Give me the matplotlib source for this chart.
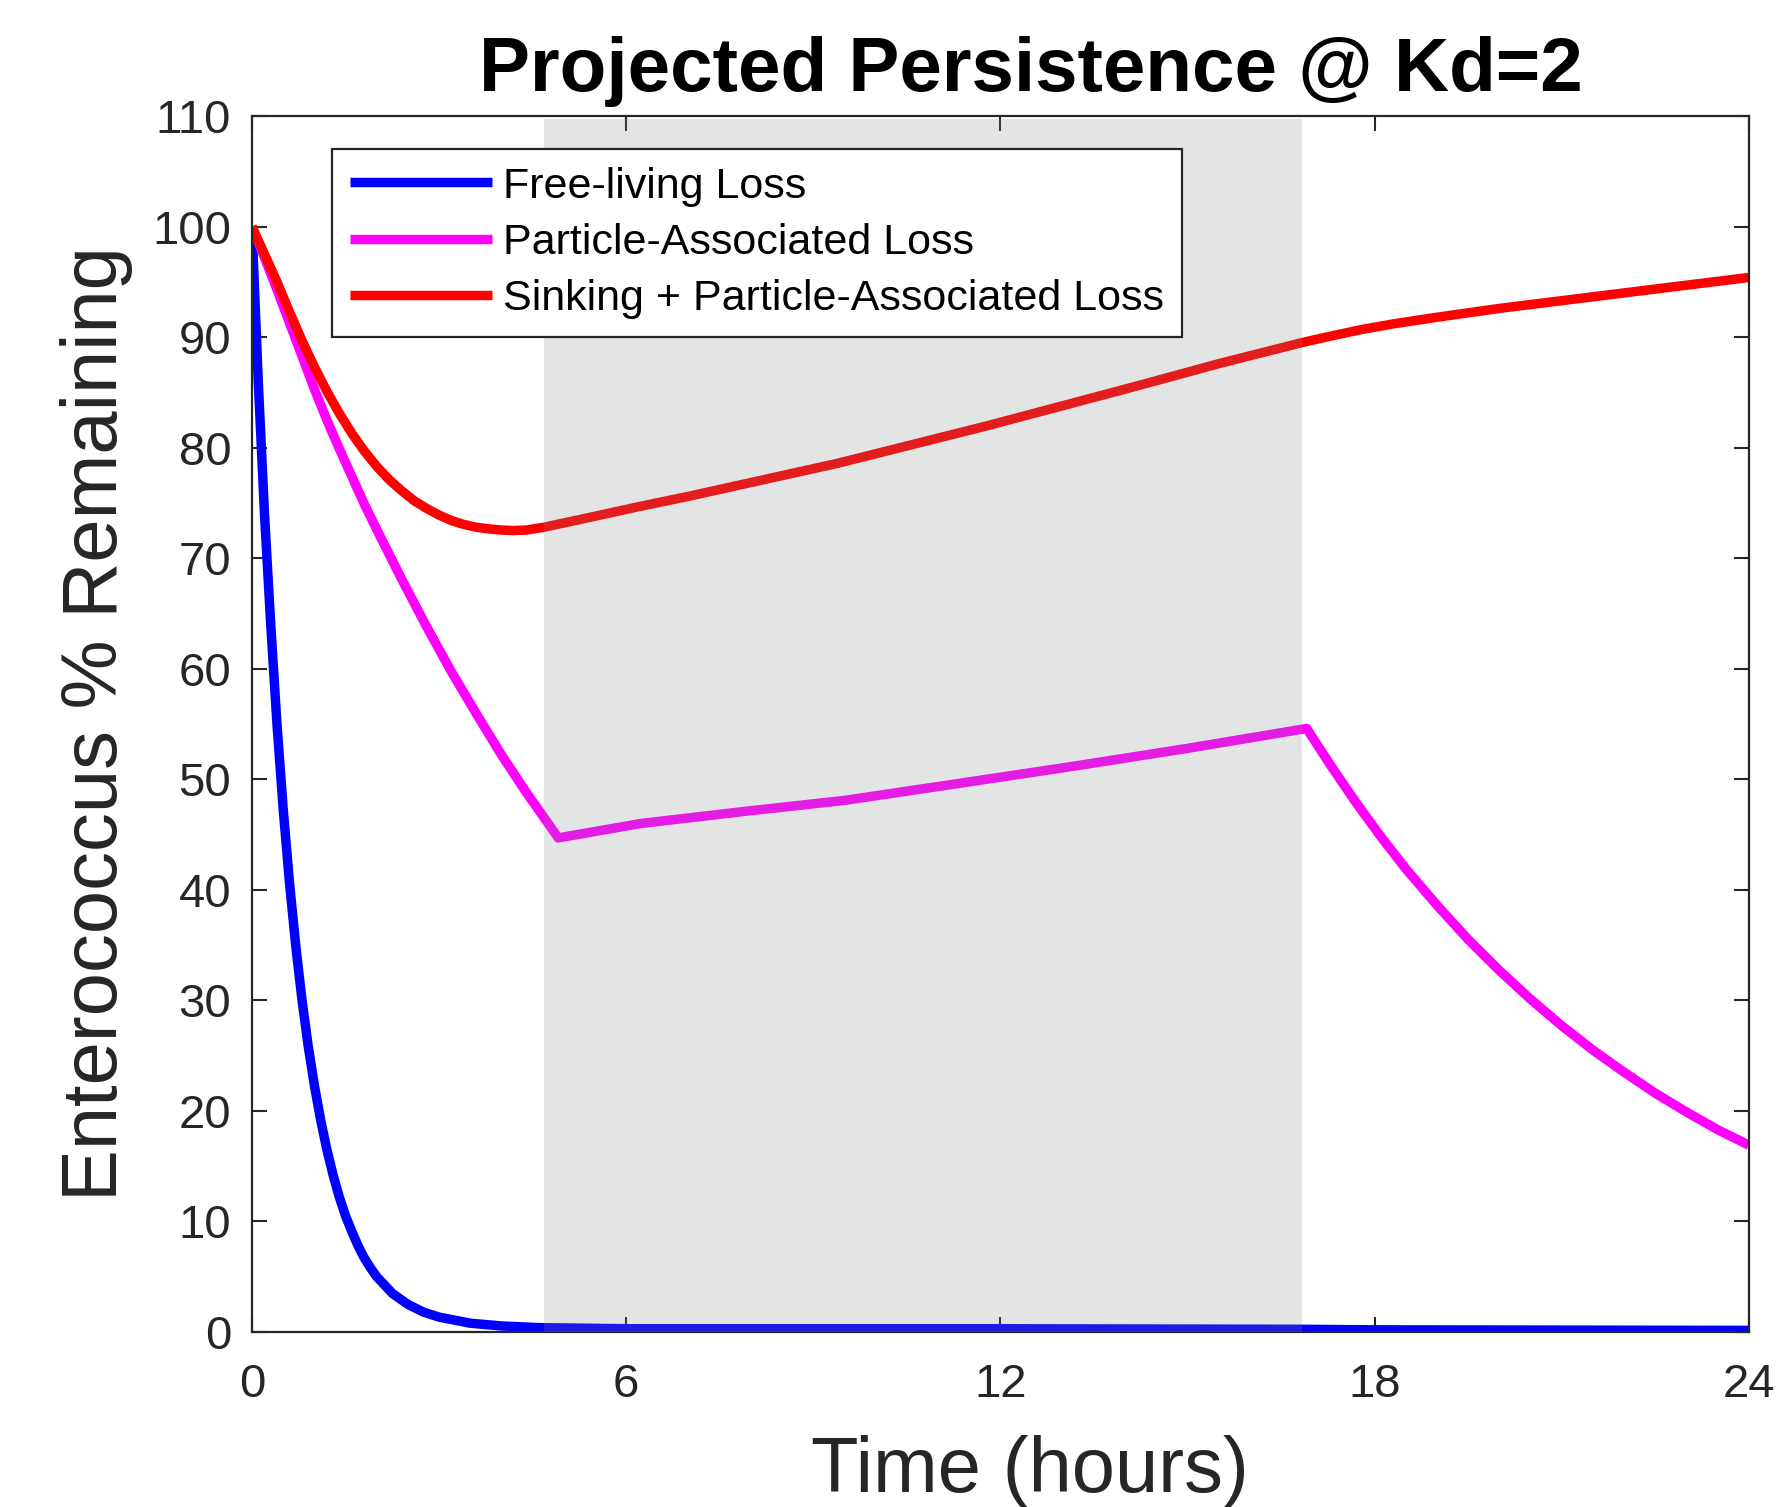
import matplotlib
matplotlib.use("Agg")
import matplotlib.pyplot as plt

plt.rcParams['font.family'] = ['Liberation Sans', 'DejaVu Sans']

# values (hours, % remaining)
t_free = [0, 0.1, 0.2, 0.3, 0.4, 0.5, 0.6, 0.7, 0.8, 0.9, 1.0, 1.1, 1.2,
          1.3, 1.4, 1.5, 1.6, 1.7, 1.8, 1.9, 2.0, 2.25, 2.5, 2.75, 3.0,
          3.5, 4.0, 4.6, 6, 12, 16.8, 18, 24]
v_free = [100, 86, 74, 64, 55, 47.3, 40.7, 35.0, 30.1, 25.9, 22.3, 19.2, 16.5,
          14.2, 12.2, 10.5, 9.1, 7.8, 6.7, 5.8, 5.0, 3.5, 2.5, 1.8, 1.35,
          0.8, 0.55, 0.4, 0.3, 0.3, 0.25, 0.2, 0.15]

t_part = [0, 0.2, 0.4, 0.6, 0.8, 1.0, 1.2, 1.4, 1.6, 1.8, 2.0, 2.4, 2.8,
          3.2, 3.6, 4.0, 4.4, 4.91,
          6.23, 7.9, 9.51, 11.3, 13.19, 15.0, 16.91,
          17.3, 17.7, 18.1, 18.5, 19.0, 19.5, 20.0, 20.5, 21.0, 21.5,
          22.0, 22.5, 23.0, 23.5, 24]
v_part = [100, 97.2, 94.3, 91.3, 88.3, 85.3, 82.5, 79.9, 77.4, 74.9, 72.6, 68.1, 63.8,
          59.7, 55.9, 52.2, 48.8, 44.7,
          46.0, 47.1, 48.1, 49.6, 51.2, 52.8, 54.6,
          51.2, 47.9, 44.8, 41.9, 38.6, 35.5, 32.7, 30.1, 27.7, 25.5,
          23.5, 21.6, 19.9, 18.3, 16.9]

t_sink = [0, 0.2, 0.4, 0.6, 0.8, 1.0, 1.2, 1.4, 1.6, 1.8, 2.0, 2.2, 2.4,
          2.6, 2.8, 3.0, 3.2, 3.4, 3.6, 3.8, 4.0, 4.2, 4.4, 4.68,
          5.5, 6.23, 7.0, 8.2, 9.4, 10.6, 11.8, 13.0, 14.2, 15.5, 16.83,
          17.3, 17.8, 18.3, 19.0, 20.0, 21.0, 22.0, 23.0, 24.0]
v_sink = [100, 97.5, 95.0, 92.3, 89.7, 87.3, 85.1, 83.1, 81.3, 79.7, 78.3, 77.1, 76.1,
          75.2, 74.5, 73.9, 73.4, 73.05, 72.8, 72.65, 72.55, 72.5, 72.55, 72.8,
          73.8, 74.7, 75.6, 77.1, 78.6, 80.3, 82.0, 83.8, 85.6, 87.6, 89.5,
          90.1, 90.7, 91.2, 91.8, 92.6, 93.3, 94.0, 94.7, 95.4]

night_start, night_end, night_top = 4.68, 16.83, 109.7

labels = ['Free-living Loss', 'Particle-Associated Loss',
          'Sinking + Particle-Associated Loss']
colors = ['#0000ff', '#ff00ff', '#ff0000']

axc = '#262626'

fig = plt.figure(figsize=(17.81, 15.07), dpi=100)
ax = fig.add_axes([0.1415, 0.1161, 0.8405, 0.8069])

lw = 6.8
for t, v, c, lab in zip([t_free, t_part, t_sink], [v_free, v_part, v_sink],
                        colors, labels):
    ax.plot(t, v, color=c, lw=lw, label=lab, zorder=2,
            solid_capstyle='butt')

ax.axvspan(night_start, night_end, ymin=0, ymax=night_top / 110,
           color=(0.5, 0.53, 0.52), alpha=0.22, lw=0, zorder=3)

ax.set_xlim(0, 24)
ax.set_ylim(0, 110)
ax.set_xticks([0, 6, 12, 18, 24])
ax.set_yticks(range(0, 111, 10))

for s in ax.spines.values():
    s.set_color(axc)
    s.set_linewidth(1.6)
ax.tick_params(direction='in', length=10.8, width=1.5, color=axc,
               labelcolor=axc, labelsize=34, top=True, right=True)
ax.tick_params(axis='x', pad=22)
ax.tick_params(axis='y', pad=15)

ax.set_title('Projected Persistence @ Kd=2', fontsize=55, fontweight='bold',
             pad=18, x=0.52)
ax.set_xlabel('Time (hours)', fontsize=56, color=axc)
ax.xaxis.set_label_coords(0.52, -0.085)
ax.set_ylabel('Enterococcus % Remaining', fontsize=56, color=axc, labelpad=14)

leg = ax.legend(loc='upper left', bbox_to_anchor=(0.0534, 0.973),
                borderaxespad=0, fontsize=31, handlelength=3.3,
                handletextpad=0.27, labelspacing=0.377, borderpad=0.41,
                fancybox=False, framealpha=1, edgecolor=axc)
leg.get_frame().set_linewidth(1.6)
leg.set_zorder(5)

fig.savefig('out.png', dpi=100)
